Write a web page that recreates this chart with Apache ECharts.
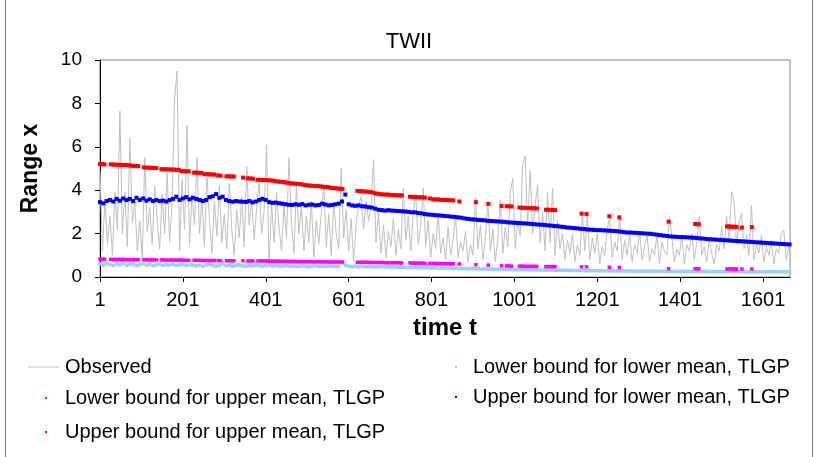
<!DOCTYPE html>
<html>
<head>
<meta charset="utf-8">
<script src="https://cdn.jsdelivr.net/npm/echarts@6/dist/echarts.min.js"></script>
<style>
  html, body { margin: 0; padding: 0; background: #ffffff; }
  #chart { width: 818px; height: 457px; }
</style>
</head>
<body>
<div id="chart"></div>
<script>
// Axis tick labels along the time axis
const timeTicks = [1, 201, 401, 601, 801, 1001, 1201, 1401, 1601];

// Observed daily range, sampled every 6th day starting at t = 1
const observedStart = 1;
const observedStep = 6;
const observed = [
  4.9, 1.2, 3.6, 1.5, 2.8, 1.0, 3.9, 2.2, 7.65, 2.0,
  3.9, 1.4, 6.4, 2.5, 3.4, 1.2, 2.6, 0.9, 5.5, 2.1,
  3.2, 1.5, 4.2, 2.6, 1.3, 3.8, 2.0, 4.8, 1.6, 3.5,
  8.2, 9.5, 1.2, 4.5, 2.2, 7.0, 1.5, 3.8, 2.4, 5.5,
  2.0, 3.6, 1.4, 4.8, 2.7, 1.1, 3.5, 1.9, 4.2, 1.6,
  2.9, 1.3, 4.3, 2.2, 1.0, 3.1, 1.8, 3.7, 1.4, 5.1,
  2.4, 3.6, 1.7, 3.2, 4.4, 2.0, 3.0, 6.08, 0.5, 3.4,
  1.6, 3.9, 2.3, 1.2, 3.3, 1.8, 5.5, 2.5, 1.1, 4.2,
  2.0, 3.3, 1.2, 2.8, 1.6, 3.5, 0.9, 2.6, 1.5, 3.0,
  4.25, 1.4, 2.9, 1.0, 3.4, 2.0, 1.3, 5.0, 1.8, 3.1,
  1.2, 2.7, 0.7, 2.4, 3.3, 3.7, 2.2, 3.5, 2.6, 3.2,
  5.4, 1.6, 3.0, 1.1, 2.4, 0.9, 2.1, 1.4, 2.7, 1.0,
  2.2, 1.3, 4.1, 1.7, 2.8, 1.2, 3.0, 3.8, 1.5, 2.4,
  4.1, 1.4, 2.6, 0.9, 2.0, 1.3, 2.9, 1.1, 1.8, 0.8,
  2.3, 1.0, 1.7, 2.8, 0.9, 1.6, 1.2, 2.1, 0.7, 1.5,
  1.0, 3.7, 1.3, 2.4, 0.8, 1.8, 3.4, 1.2, 2.2, 0.7,
  1.8, 3.55, 1.1, 2.3, 1.4, 3.87, 4.55, 1.3, 2.6, 1.9,
  5.15, 5.58, 2.4, 4.9, 2.0, 3.3, 4.25, 1.6, 3.0, 1.2,
  3.9, 1.6, 4.1, 1.0, 2.6, 1.3, 2.0, 0.8, 1.7, 1.1,
  2.0, 0.7, 1.5, 1.0, 3.0, 1.2, 2.86, 0.8, 1.8, 1.1,
  2.0, 0.6, 1.4, 1.0, 2.2, 2.78, 0.9, 1.6, 1.2, 2.78,
  0.8, 1.7, 1.0, 2.0, 0.7, 1.5, 1.1, 2.1, 0.8, 1.4,
  1.9, 0.7, 1.3, 1.0, 2.0, 0.6, 1.6, 1.2, 1.0, 2.78,
  1.8, 0.7, 1.3, 1.0, 1.9, 0.6, 1.5, 1.2, 2.0, 0.8,
  1.6, 2.78, 1.0, 1.4, 0.7, 1.7, 1.1, 0.6, 1.5, 1.2,
  2.3, 1.3, 2.8, 1.7, 3.93, 3.55, 1.5, 2.5, 2.93, 1.3,
  1.9, 1.0, 3.3, 0.8, 1.5, 1.1, 1.9, 0.7, 1.4, 1.0,
  1.7, 0.6, 1.3, 1.1, 2.0, 2.17, 0.8, 1.4
];

// Lower-regime bounds, sampled every 8th day starting at t = 1
const boundStart = 1;
const boundStep = 8;
const upperBoundLowerMean = [
  3.45, 3.4, 3.5, 3.55, 3.48, 3.6, 3.52, 3.62, 3.55, 3.6,
  3.5, 3.65, 3.55, 3.62, 3.52, 3.58, 3.5, 3.55, 3.5, 3.52,
  3.48, 3.55, 3.6, 3.7, 3.55, 3.62, 3.68, 3.58, 3.65, 3.6,
  3.55, 3.5, 3.55, 3.68, 3.72, 3.82, 3.65, 3.7, 3.55, 3.5,
  3.47, 3.5, 3.48, 3.47, 3.46, 3.5, 3.44, 3.48, 3.55, 3.6,
  3.55, 3.45, 3.42, 3.43, 3.4, 3.38, 3.35, 3.33, 3.32, 3.35,
  3.33, 3.36, 3.3, 3.33, 3.34, 3.3, 3.32, 3.38, 3.34, 3.3,
  3.32, 3.35, 3.38, 3.48, 3.8, 3.35, 3.3, 3.28, 3.3, 3.26,
  3.25, 3.22, 3.2, 3.15, 3.1, 3.08, 3.06, 3.08, 3.06, 3.05,
  3.04, 3.03, 3.02, 3.0, 2.98, 2.98, 2.95, 2.93, 2.9, 2.88,
  2.87, 2.85, 2.84, 2.83, 2.81, 2.8, 2.78, 2.77, 2.75, 2.73,
  2.7, 2.68, 2.66, 2.65, 2.63, 2.62, 2.61, 2.59, 2.58, 2.57,
  2.56, 2.55, 2.54, 2.52, 2.51, 2.5, 2.49, 2.48, 2.47, 2.46,
  2.45, 2.43, 2.42, 2.41, 2.4, 2.38, 2.37, 2.35, 2.34, 2.32,
  2.3, 2.28, 2.27, 2.25, 2.24, 2.22, 2.21, 2.19, 2.18, 2.17,
  2.16, 2.16, 2.15, 2.14, 2.13, 2.12, 2.11, 2.09, 2.07, 2.05,
  2.05, 2.04, 2.03, 2.02, 2.01, 2.0, 1.99, 1.97, 1.95, 1.93,
  1.91, 1.89, 1.87, 1.86, 1.85, 1.84, 1.84, 1.83, 1.82, 1.81,
  1.8, 1.78, 1.77, 1.75, 1.74, 1.73, 1.72, 1.71, 1.7, 1.69,
  1.68, 1.67, 1.66, 1.65, 1.64, 1.63, 1.62, 1.61, 1.6, 1.59,
  1.58, 1.57, 1.56, 1.55, 1.54, 1.53, 1.52, 1.51, 1.5
];
const lowerBoundLowerMean = [
  0.6, 0.55, 0.62, 0.58, 0.52, 0.6, 0.56, 0.63, 0.55, 0.58,
  0.6, 0.53, 0.57, 0.62, 0.55, 0.58, 0.52, 0.56, 0.6, 0.54,
  0.57, 0.55, 0.59, 0.53, 0.56, 0.58, 0.54, 0.57, 0.55, 0.52,
  0.55, 0.5, 0.56, 0.58, 0.53, 0.5, 0.55, 0.6, 0.52, 0.54,
  0.5, 0.53, 0.56, 0.52, 0.5, 0.54, 0.51, 0.55, 0.53, 0.5,
  0.52, 0.55, 0.5, 0.53, 0.51, 0.5, 0.52, 0.5, 0.51,
  0.5, 0.48, 0.52, 0.5, 0.47, 0.5, 0.52, 0.49, 0.5, 0.48,
  0.51, 0.5, 0.48, 0.5, 0.65, 0.55, 0.5, 0.48, 0.5, 0.47,
  0.49, 0.48, 0.47, 0.48, 0.46, 0.47, 0.48, 0.46, 0.47,
  0.46, 0.46, 0.45, 0.45, 0.45, 0.44, 0.44, 0.44, 0.43, 0.43, 0.43, 0.42,
  0.42, 0.42, 0.41, 0.41, 0.41, 0.4, 0.4, 0.4, 0.39, 0.39,
  0.39, 0.38, 0.38, 0.38, 0.38, 0.37, 0.37, 0.37, 0.36, 0.36,
  0.36, 0.36, 0.35, 0.35, 0.35, 0.34, 0.34, 0.34, 0.34, 0.33,
  0.33, 0.33, 0.33, 0.32, 0.32, 0.32, 0.32, 0.31, 0.31, 0.31,
  0.31, 0.31, 0.3, 0.3, 0.3, 0.3, 0.3, 0.29, 0.29, 0.29,
  0.29, 0.29, 0.29, 0.28, 0.28, 0.28, 0.28, 0.28, 0.28, 0.28,
  0.28, 0.27, 0.27, 0.27, 0.27, 0.27, 0.27, 0.27, 0.27, 0.27,
  0.26, 0.26, 0.26, 0.26, 0.26, 0.26, 0.26, 0.26, 0.26, 0.26,
  0.26, 0.26, 0.26, 0.26, 0.25, 0.25, 0.25, 0.25, 0.25, 0.25,
  0.25, 0.25, 0.25, 0.25, 0.25, 0.24, 0.24, 0.24, 0.24, 0.24,
  0.24, 0.24, 0.24, 0.24, 0.24, 0.24, 0.24, 0.24, 0.24
];

// Days classified in the upper regime, with the upper-mean bounds on those days
const upperRegimeT = [
  1, 7, 12, 27, 33, 39, 45, 51, 57, 63, 69, 75, 81, 87, 93,
  107, 113, 119, 125, 131, 137, 149, 155, 161, 167, 173, 179, 185, 191, 197,
  203, 209, 215, 228, 234, 240, 246, 253, 259, 265, 271, 277, 286, 292,
  306, 312, 318, 324, 346, 358, 364, 370, 382, 388, 394, 400, 406, 412, 418,
  424, 430, 436, 442, 448, 454, 460, 466, 472, 478, 484, 490, 496, 502, 508,
  514, 520, 526, 532, 538, 544, 550, 556, 562, 568, 574, 580, 586,
  622, 628, 634, 640, 646, 652, 658, 664, 670, 676, 682, 688, 694, 700, 706,
  712, 718, 724, 729, 749, 755, 761, 767, 773, 779, 785, 797,
  805, 811, 817, 823, 829, 835, 841, 847, 853, 868, 908, 938, 970, 982, 988, 994,
  1013, 1019, 1025, 1031, 1037, 1043, 1049, 1055, 1077, 1083, 1089, 1095, 1099,
  1163, 1175, 1230, 1254, 1373, 1437, 1442, 1446,
  1514, 1519, 1524, 1529, 1534, 1537, 1550, 1574
];
const upperBoundUpperMean = [
  5.2, 5.2, 5.19, 5.19, 5.18, 5.18, 5.17, 5.17, 5.16, 5.16, 5.15, 5.14, 5.12, 5.12, 5.11,
  5.05, 5.04, 5.04, 5.03, 5.03, 5.02, 4.97, 4.97, 4.96, 4.96, 4.95, 4.95, 4.94, 4.94, 4.88,
  4.88, 4.87, 4.87, 4.81, 4.81, 4.8, 4.8, 4.74, 4.74, 4.73, 4.73, 4.72, 4.68, 4.67,
  4.64, 4.64, 4.63, 4.63, 4.58, 4.55, 4.54, 4.53, 4.48, 4.48, 4.47, 4.47, 4.46, 4.45, 4.44,
  4.42, 4.4, 4.39, 4.38, 4.36, 4.34, 4.32, 4.31, 4.3, 4.29, 4.28, 4.26, 4.24, 4.22, 4.21,
  4.2, 4.19, 4.19, 4.18, 4.16, 4.15, 4.15, 4.12, 4.1, 4.09, 4.08, 4.07, 4.06,
  3.97, 3.96, 3.95, 3.94, 3.93, 3.92, 3.9, 3.86, 3.84, 3.82, 3.81, 3.8, 3.8, 3.79, 3.78,
  3.77, 3.77, 3.76, 3.76, 3.7, 3.69, 3.69, 3.68, 3.67, 3.67, 3.66, 3.62,
  3.58, 3.57, 3.57, 3.56, 3.55, 3.55, 3.54, 3.54, 3.53, 3.48, 3.45, 3.37, 3.27, 3.26, 3.26, 3.25,
  3.2, 3.19, 3.19, 3.18, 3.18, 3.17, 3.17, 3.16, 3.1, 3.1, 3.09, 3.09, 3.08,
  2.92, 2.9, 2.8, 2.75, 2.55, 2.44, 2.44, 2.43,
  2.33, 2.33, 2.32, 2.32, 2.31, 2.31, 2.28, 2.3
];
const lowerBoundUpperMean = [
  0.82, 0.82, 0.82, 0.81, 0.81, 0.81, 0.81, 0.81, 0.81, 0.8, 0.8, 0.8, 0.8, 0.8, 0.8,
  0.8, 0.79, 0.79, 0.79, 0.79, 0.79, 0.79, 0.79, 0.78, 0.78, 0.78, 0.78, 0.78, 0.78, 0.78,
  0.77, 0.77, 0.77, 0.77, 0.77, 0.77, 0.76, 0.76, 0.76, 0.76, 0.76, 0.76, 0.76, 0.75,
  0.75, 0.75, 0.75, 0.75, 0.75, 0.74, 0.74, 0.74, 0.74, 0.74, 0.74, 0.74, 0.73, 0.73, 0.73,
  0.73, 0.73, 0.73, 0.72, 0.72, 0.72, 0.72, 0.72, 0.72, 0.71, 0.71, 0.71, 0.71, 0.71, 0.71,
  0.7, 0.7, 0.7, 0.7, 0.7, 0.7, 0.7, 0.69, 0.69, 0.69, 0.69, 0.69, 0.69,
  0.68, 0.68, 0.68, 0.68, 0.68, 0.67, 0.67, 0.67, 0.67, 0.67, 0.67, 0.66, 0.66, 0.66, 0.66,
  0.66, 0.66, 0.65, 0.65, 0.65, 0.64, 0.64, 0.64, 0.64, 0.64, 0.63, 0.63,
  0.63, 0.62, 0.62, 0.62, 0.62, 0.61, 0.61, 0.61, 0.61, 0.6, 0.57, 0.55, 0.52, 0.51, 0.51, 0.5,
  0.5, 0.5, 0.5, 0.49, 0.49, 0.49, 0.49, 0.49, 0.48, 0.48, 0.48, 0.48, 0.48,
  0.47, 0.47, 0.45, 0.44, 0.38, 0.38, 0.38, 0.38,
  0.37, 0.37, 0.37, 0.37, 0.37, 0.37, 0.37, 0.37
];

const SERIES_NAMES = {
  observed: 'Observed',
  lbUpper: 'Lower bound for upper mean, TLGP',
  ubUpper: 'Upper bound for upper mean, TLGP',
  lbLower: 'Lower bound for lower mean, TLGP',
  ubLower: 'Upper bound for lower mean, TLGP'
};
const COLORS = {
  observed: '#c0c0c0',
  lbUpper: '#ff00ff',
  ubUpper: '#ff0000',
  lbLower: '#99ccff',
  ubLower: '#0000ff'
};

function sampled(values, start, step) {
  return values.map((v, i) => [start + i * step, v]);
}
function paired(times, values) {
  return times.map((t, i) => [t, values[i]]);
}

const FONT = '"Liberation Sans", Arial, sans-serif';
const LEGEND_FONT = 20;

const chart = echarts.init(document.getElementById('chart'), null, { renderer: 'canvas' });

function dotLegend(name, left, top, gap) {
  return {
    data: [name],
    left: left,
    top: top,
    orient: 'horizontal',
    icon: 'rect',
    itemWidth: 2,
    itemHeight: 2,
    padding: 0,
    selectedMode: false,
    textStyle: { fontFamily: FONT, fontSize: LEGEND_FONT, color: '#000', padding: [0, 0, 0, gap] }
  };
}

chart.setOption({
  animation: false,
  backgroundColor: '#ffffff',
  title: {
    text: 'TWII',
    left: 'center',
    top: 31,
    padding: 0,
    textStyle: { fontFamily: FONT, fontSize: 22, fontWeight: 'normal', color: '#000' }
  },
  grid: {
    left: 100, right: 28, top: 60, bottom: 180,
    show: true, borderColor: '#868686', borderWidth: 1, backgroundColor: '#ffffff'
  },
  legend: [
    {
      data: [SERIES_NAMES.observed],
      left: 28, top: 357, padding: 0,
      icon: 'rect', itemWidth: 31, itemHeight: 1,
      selectedMode: false,
      textStyle: { fontFamily: FONT, fontSize: LEGEND_FONT, color: '#000', padding: [0, 0, 0, 1] }
    },
    dotLegend(SERIES_NAMES.lbUpper, 45, 388, 13),
    dotLegend(SERIES_NAMES.ubUpper, 45, 422, 13),
    dotLegend(SERIES_NAMES.lbLower, 455, 357, 11),
    dotLegend(SERIES_NAMES.ubLower, 455, 387, 11)
  ],
  xAxis: {
    type: 'value',
    min: 1,
    max: 1666,
    name: 'time t',
    nameLocation: 'middle',
    nameGap: 39,
    nameTextStyle: { fontFamily: FONT, fontSize: 24, fontWeight: 'bold', color: '#000' },
    splitLine: { show: false },
    axisLine: { show: true, onZero: false, lineStyle: { color: '#000', width: 1 } },
    axisTick: { show: true, length: 5, inside: false, customValues: timeTicks, lineStyle: { color: '#000' } },
    axisLabel: {
      customValues: timeTicks, margin: 13, fontFamily: FONT, fontSize: 20, color: '#000',
      formatter: (v) => String(v)
    }
  },
  yAxis: {
    type: 'value',
    min: 0,
    max: 10,
    interval: 2,
    name: 'Range x',
    nameLocation: 'middle',
    nameGap: 58,
    nameTextStyle: { fontFamily: FONT, fontSize: 23, fontWeight: 'bold', color: '#000' },
    splitLine: { show: false },
    axisLine: { show: true, lineStyle: { color: '#000', width: 1 } },
    axisTick: { show: true, length: 5, inside: false, lineStyle: { color: '#000' } },
    axisLabel: { margin: 18, fontFamily: FONT, fontSize: 19, color: '#000' }
  },
  series: [
    {
      name: SERIES_NAMES.observed,
      type: 'line',
      data: sampled(observed, observedStart, observedStep),
      showSymbol: false,
      symbol: 'none',
      itemStyle: { color: COLORS.observed },
      lineStyle: { color: COLORS.observed, width: 1 },
      z: 1
    },
    {
      name: SERIES_NAMES.lbLower,
      type: 'scatter',
      data: sampled(lowerBoundLowerMean, boundStart, boundStep),
      symbol: 'rect', symbolSize: 3.5,
      itemStyle: { color: COLORS.lbLower, opacity: 1 },
      z: 2
    },
    {
      name: SERIES_NAMES.lbUpper,
      type: 'scatter',
      data: paired(upperRegimeT, lowerBoundUpperMean),
      symbol: 'rect', symbolSize: 3.5,
      itemStyle: { color: COLORS.lbUpper, opacity: 1 },
      z: 3
    },
    {
      name: SERIES_NAMES.ubLower,
      type: 'scatter',
      data: sampled(upperBoundLowerMean, boundStart, boundStep),
      symbol: 'rect', symbolSize: 4,
      itemStyle: { color: COLORS.ubLower, opacity: 1 },
      z: 3
    },
    {
      name: SERIES_NAMES.ubUpper,
      type: 'scatter',
      data: paired(upperRegimeT, upperBoundUpperMean),
      symbol: 'rect', symbolSize: 4,
      itemStyle: { color: COLORS.ubUpper, opacity: 1 },
      z: 4
    }
  ],
  graphic: [
    { type: 'line', silent: true, shape: { x1: 5.5, y1: 0, x2: 5.5, y2: 457 }, style: { stroke: '#808080', lineWidth: 1 } },
    { type: 'line', silent: true, shape: { x1: 812.5, y1: 0, x2: 812.5, y2: 457 }, style: { stroke: '#808080', lineWidth: 1 } }
  ]
});
</script>
</body>
</html>
